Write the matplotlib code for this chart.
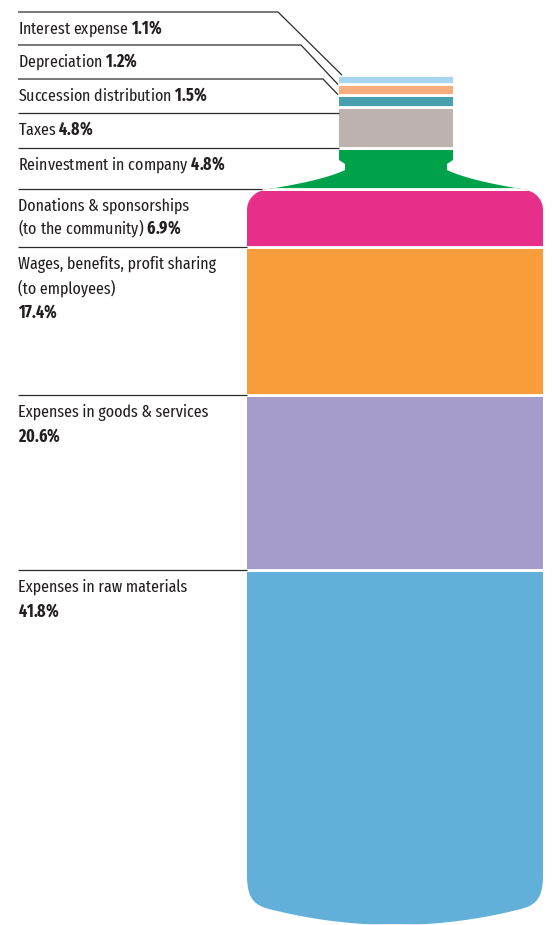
import numpy as np
import matplotlib.pyplot as plt
from matplotlib.path import Path
from matplotlib.patches import PathPatch

# data, top of bottle first
names = ["Interest expense", "Depreciation", "Succession distribution", "Taxes",
         "Reinvestment in company", "Donations & sponsorships\n(to the community)",
         "Wages, benefits, profit sharing\n(to employees)\n",
         "Expenses in goods & services\n", "Expenses in raw materials\n"]
values = [1.1, 1.2, 1.5, 4.8, 4.8, 6.9, 17.4, 20.6, 41.8]
colors = ["#a8d4ee", "#f7ae7c", "#48a0ae", "#bcb3b0", "#00a14b",
          "#e72e89", "#f89c3c", "#a59ccb", "#62b0da"]

H = 925          # figure height in px
PX = 8.49        # px per percent

plt.rcParams['mathtext.fontset'] = 'custom'
plt.rcParams['mathtext.rm'] = 'Fira Sans Extra Condensed'
plt.rcParams['mathtext.bf'] = 'Fira Sans Extra Condensed:bold'

def yd(p):
    return (H - np.asarray(p, dtype=float)) / PX

def qbez(p0, p1, p2, n=24):
    t = np.linspace(0, 1, n)[:, None]
    p0, p1, p2 = map(np.array, (p0, p1, p2))
    return (1 - t) ** 2 * p0 + 2 * (1 - t) * t * p1 + t ** 2 * p2

def cbez(p0, p1, p2, p3, n=24):
    t = np.linspace(0, 1, n)[:, None]
    p0, p1, p2, p3 = map(np.array, (p0, p1, p2, p3))
    return ((1 - t) ** 3 * p0 + 3 * (1 - t) ** 2 * t * p1
            + 3 * (1 - t) * t ** 2 * p2 + t ** 3 * p3)

def arc(cx, cy, r, a0, a1, n=16):
    a = np.radians(np.linspace(a0, a1, n))
    return np.column_stack([cx + r * np.cos(a), cy - r * np.sin(a)])

# neck + shoulder outline (px, y down)
neck = np.vstack([
    [[262, 190]],
    qbez((262, 190), (322, 181), (345, 170)),
    [[345, 164], [339, 160], [339, 78]],
    qbez((339, 78), (339, 75.5), (342, 75.5), 6),
    qbez((342, 75.5), (396, 73), (450, 75.5)),
    qbez((450, 75.5), (453, 75.5), (453, 78), 6),
    [[453, 160], [447, 164], [447, 170]],
    qbez((447, 170), (470, 181), (528, 190)),
])
body = np.vstack([
    arc(267, 210, 20, 180, 90),
    arc(523, 210, 20, 90, 0),
    [[543, 875]],
    cbez((543, 875), (543, 900), (535, 906), (517, 910)),
    qbez((517, 910), (395, 940), (273, 910)),
    cbez((273, 910), (255, 906), (247, 900), (247, 875)),
])

def to_path(pts):
    v = np.column_stack([pts[:, 0], yd(pts[:, 1])])
    v = np.vstack([v, v[:1]])
    codes = [Path.MOVETO] + [Path.LINETO] * (len(v) - 2) + [Path.CLOSEPOLY]
    return v, codes

v1, c1 = to_path(neck)
v2, c2 = to_path(body)
bottle = Path(np.vstack([v1, v2]), c1 + c2)

fig = plt.figure(figsize=(5.54, 9.25), dpi=100)
ax = fig.add_axes([0, 0, 1, 1])
ax.set_xlim(0, 554)
ax.set_ylim(0, H / PX)
ax.axis('off')

clip = PathPatch(bottle, facecolor='none', edgecolor='none')
ax.add_patch(clip)

vals_up = values[::-1]
cols_up = colors[::-1]
bottoms = np.concatenate([[0], np.cumsum(vals_up)[:-1]])
bars = ax.bar(396, vals_up, bottom=bottoms, width=420, color=cols_up,
              edgecolor='white', linewidth=2.0)
for b in bars:
    b.set_clip_path(clip)

# segment tops, top of bottle first
tops = np.cumsum(vals_up)[::-1]
tops_px = H - tops * PX

# label anchor rows (px); top four spread out, rest follow the segments
line_px = [12, 45, 79, 113] + list(tops_px[4:])
line_end = [278, 301, 323, 339, 339, 262, 247, 247, 247]
diag_x = [342, 338, 338, None, None, None, None, None, None]

fam = ['Fira Sans Extra Condensed', 'Roboto Condensed', 'DejaVu Sans']
fs = 12.5
ink = '#231f20'

for i, name in enumerate(names):
    y0 = line_px[i]
    xs = [18, line_end[i]]
    ys = [y0, y0]
    if diag_x[i] is not None:
        xs.append(diag_x[i])
        ys.append(tops_px[i])
    ax.plot(xs, yd(ys), color='#2b2b2b', lw=0.9, solid_capstyle='butt')

    rows = name.split('\n')
    pct = r"$\mathbf{" + f"{values[i]}" + r"\%}$"
    for k, row in enumerate(rows):
        yb = yd(y0 + 22 + 24 * k)
        if k == len(rows) - 1:
            row = (row + " " + pct) if row else pct
        ax.text(18, yb, row, fontsize=fs, family=fam, color=ink,
                va='baseline', ha='left')

fig.savefig('out.png', dpi=100)
